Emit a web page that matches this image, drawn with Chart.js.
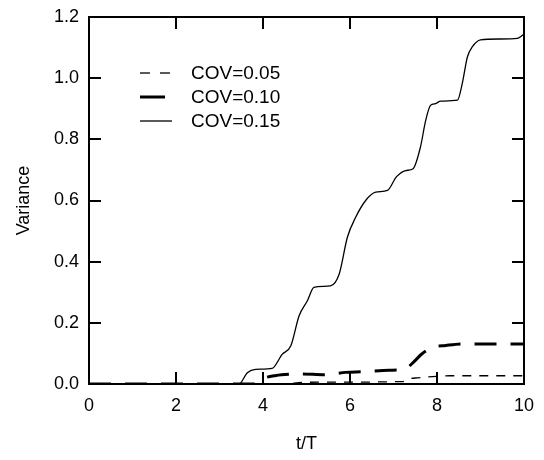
<!DOCTYPE html>
<html>
<head>
<meta charset="utf-8">
<script src="https://cdn.jsdelivr.net/npm/chart.js@4/dist/chart.umd.min.js"></script>
<style>
  html, body { margin: 0; padding: 0; background: #fff; }
  #wrap { width: 544px; height: 460px; }
</style>
</head>
<body>
<div id="wrap"><canvas id="varChart" width="544" height="460"></canvas></div>
<script>
// variance history for three coefficients of variation
const tCov15 = [0, 3.45, 3.64, 3.83, 4.21, 4.44, 4.64, 4.83, 5.02, 5.17, 5.55, 5.75, 5.94, 6.13, 6.36, 6.59, 6.86, 7.07, 7.28, 7.45, 7.62, 7.74, 7.85, 7.97, 8.08, 8.47, 8.58, 8.70, 8.81, 9.0, 9.43, 9.85, 10];
const vCov15 = [0, 0, 0.037, 0.048, 0.051, 0.097, 0.125, 0.223, 0.272, 0.316, 0.321, 0.359, 0.48, 0.545, 0.6, 0.627, 0.633, 0.678, 0.698, 0.704, 0.775, 0.862, 0.911, 0.917, 0.925, 0.928, 0.982, 1.07, 1.102, 1.125, 1.128, 1.13, 1.144];

const tCov10 = [0, 3.8, 4.0, 4.3, 4.6, 4.9, 5.4, 5.9, 6.3, 6.9, 7.25, 7.45, 7.65, 7.9, 8.2, 8.6, 10];
const vCov10 = [0, 0, 0.018, 0.028, 0.032, 0.033, 0.03, 0.038, 0.04, 0.045, 0.048, 0.07, 0.098, 0.12, 0.126, 0.131, 0.131];

const tCov05 = [0, 4.5, 4.9, 5.5, 7.2, 7.4, 7.55, 7.9, 8.3, 10];
const vCov05 = [0, 0, 0.005, 0.006, 0.008, 0.018, 0.02, 0.024, 0.027, 0.027];

const xTicks = [0, 2, 4, 6, 8, 10];
const yTicks = [0, 0.2, 0.4, 0.6, 0.8, 1.0, 1.2];

const FONT = '"Liberation Sans", Arial, Helvetica, sans-serif';

const toPoints = (ts, vs) => ts.map((t, i) => ({ x: t, y: vs[i] }));

// box frame with inward ticks on all four sides
const framePlugin = {
  id: 'frame',
  afterDraw(chart) {
    const { ctx, chartArea: a, scales: { x, y } } = chart;
    const len = 12;
    ctx.save();
    ctx.strokeStyle = '#000';
    ctx.lineWidth = 2;
    ctx.strokeRect(a.left, a.top, a.right - a.left, a.bottom - a.top);
    ctx.beginPath();
    xTicks.slice(1, -1).forEach(v => {
      const px = Math.round(x.getPixelForValue(v));
      ctx.moveTo(px, a.bottom); ctx.lineTo(px, a.bottom - len);
      ctx.moveTo(px, a.top); ctx.lineTo(px, a.top + len);
    });
    yTicks.slice(1, -1).forEach(v => {
      const py = Math.round(y.getPixelForValue(v));
      ctx.moveTo(a.left, py); ctx.lineTo(a.left + len, py);
      ctx.moveTo(a.right, py); ctx.lineTo(a.right - len, py);
    });
    ctx.stroke();
    ctx.restore();
  }
};

// legend inside the plot, upper left
const legendPlugin = {
  id: 'innerLegend',
  afterDraw(chart) {
    const { ctx } = chart;
    const rows = [73, 97, 121];
    const samples = [[140, 170], [140, 165], [140, 172]];
    ctx.save();
    ctx.font = '19px ' + FONT;
    ctx.fillStyle = '#000';
    ctx.textBaseline = 'middle';
    chart.data.datasets.forEach((ds, i) => {
      const yy = rows[i];
      ctx.strokeStyle = '#000';
      ctx.lineWidth = ds.borderWidth;
      ctx.setLineDash(i === 0 ? [10, 10] : []);
      ctx.beginPath();
      ctx.moveTo(samples[i][0], yy);
      ctx.lineTo(samples[i][1], yy);
      ctx.stroke();
      ctx.setLineDash([]);
      ctx.fillText(ds.label, 191, yy + 1);
    });
    ctx.restore();
  }
};

new Chart(document.getElementById('varChart'), {
  type: 'line',
  data: {
    datasets: [
      {
        label: 'COV=0.05',
        data: toPoints(tCov05, vCov05),
        borderColor: '#000',
        borderWidth: 1.3,
        borderDash: [9, 8],
        pointRadius: 0,
        cubicInterpolationMode: 'monotone'
      },
      {
        label: 'COV=0.10',
        data: toPoints(tCov10, vCov10),
        borderColor: '#000',
        borderWidth: 3,
        borderDash: [22, 14],
        pointRadius: 0,
        cubicInterpolationMode: 'monotone'
      },
      {
        label: 'COV=0.15',
        data: toPoints(tCov15, vCov15),
        borderColor: '#000',
        borderWidth: 1.3,
        pointRadius: 0,
        cubicInterpolationMode: 'monotone'
      }
    ]
  },
  options: {
    responsive: false,
    animation: false,
    layout: { padding: { left: 0, right: 20, top: 17, bottom: 0 } },
    plugins: { legend: { display: false }, tooltip: { enabled: false } },
    scales: {
      x: {
        type: 'linear',
        min: 0,
        max: 10,
        grid: { display: false },
        border: { display: false },
        afterBuildTicks: s => { s.ticks = xTicks.map(v => ({ value: v })); },
        afterFit: s => { s.height = 76; },
        ticks: { color: '#000', font: { family: FONT, size: 18 }, padding: 3, maxRotation: 0 },
        title: { display: true, text: 't/T', color: '#000', font: { family: FONT, size: 18 }, padding: { top: 0, bottom: 5 } }
      },
      y: {
        min: 0,
        max: 1.2,
        grid: { display: false },
        border: { display: false },
        afterBuildTicks: s => { s.ticks = yTicks.map(v => ({ value: v })); },
        afterFit: s => { s.width = 89; },
        ticks: { color: '#000', font: { family: FONT, size: 18 }, padding: 2, callback: v => v.toFixed(1) },
        title: { display: true, text: 'Variance', color: '#000', font: { family: FONT, size: 18 }, padding: { top: 13, bottom: 0 } }
      }
    }
  },
  plugins: [framePlugin, legendPlugin]
});
</script>
</body>
</html>
